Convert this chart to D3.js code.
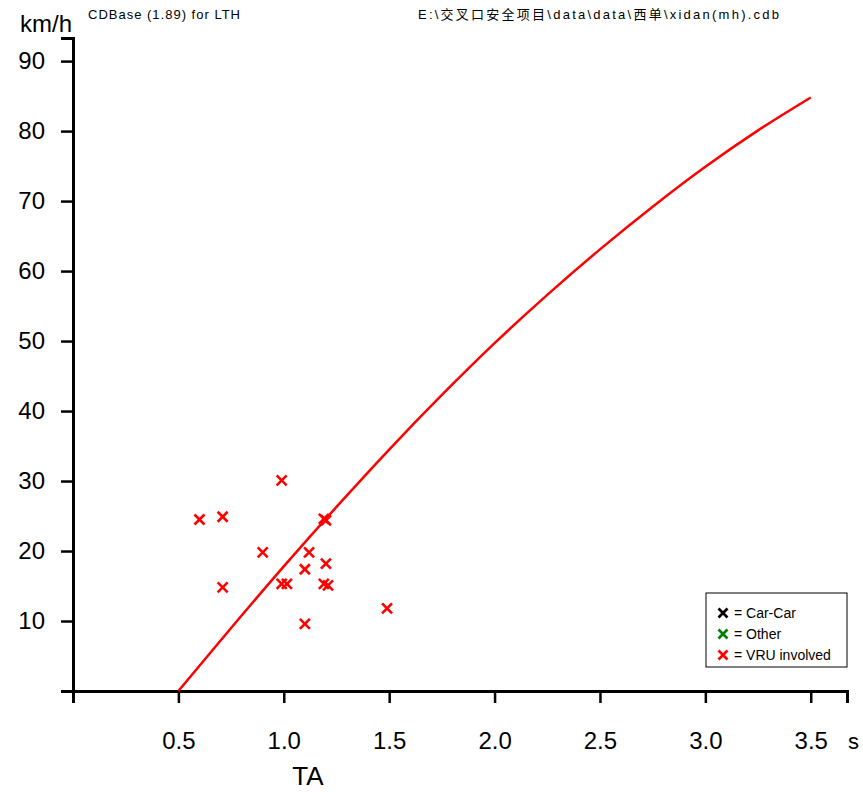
<!DOCTYPE html>
<html>
<head>
<meta charset="utf-8">
<script src="https://cdn.jsdelivr.net/npm/d3@7"></script>
<style>
  body { margin: 0; background: #fff; }
  svg { display: block; font-family: "Liberation Sans", Arial, sans-serif; }
</style>
</head>
<body>
<div id="chart"></div>
<script>
// data
var xTicks = [0.5, 1.0, 1.5, 2.0, 2.5, 3.0, 3.5];
var yTicks = [10, 20, 30, 40, 50, 60, 70, 80, 90];

// red reference curve (TA in s, speed in km/h)
var curveTA    = [0.5, 0.75, 1.0, 1.25, 1.5, 1.75, 2.0, 2.25, 2.5, 2.75, 3.0, 3.25, 3.5];
var curveSpeed = [0, 9.0, 17.8, 26.3, 34.5, 42.3, 49.7, 56.6, 63.1, 69.2, 74.9, 80.1, 84.8];

// conflict points (all VRU involved)
var pointTA    = [0.60, 0.71, 0.99, 0.90, 0.71, 0.99, 1.015, 1.12, 1.10, 1.20, 1.19, 1.20, 1.19, 1.21, 1.10, 1.49];
var pointSpeed = [24.5, 24.9, 30.1, 19.8, 14.8, 15.3, 15.3, 19.8, 17.4, 18.2, 24.6, 24.4, 15.3, 15.1, 9.6, 11.8];

var legendLabels = ["= Car-Car", "= Other", "= VRU involved"];
var legendColors = ["#000000", "#008000", "#ff0000"];

var W = 863, H = 792;
var svg = d3.select("#chart").append("svg")
    .attr("width", W)
    .attr("height", H);

// scales
var x = d3.scaleLinear().domain([0, 3.672]).range([73, 847]);
var y = d3.scaleLinear().domain([0, 93.3]).range([691, 38]);

// header texts
svg.append("text")
    .attr("x", 20).attr("y", 32)
    .style("font-size", "24px")
    .text("km/h");
svg.append("text")
    .attr("x", 88).attr("y", 19)
    .attr("textLength", 152)
    .style("font-size", "13px")
    .text("CDBase (1.89) for LTH");
svg.append("text")
    .attr("x", 418).attr("y", 19)
    .attr("textLength", 361)
    .style("font-size", "13px")
    .style("font-family", "'Liberation Sans', 'Noto Sans CJK SC', sans-serif")
    .text("E:\\交叉口安全项目\\data\\data\\西单\\xidan(mh).cdb");

// axes
var yAxis = svg.append("g")
    .attr("transform", "translate(73,0)")
    .call(d3.axisLeft(y).tickValues(yTicks).tickSize(12).tickPadding(16).tickFormat(d3.format("d")));
var xAxis = svg.append("g")
    .attr("transform", "translate(0,691)")
    .call(d3.axisBottom(x).tickValues(xTicks).tickSize(12).tickPadding(29).tickFormat(d3.format(".1f")));

[xAxis, yAxis].forEach(function(g) {
  g.select(".domain").attr("stroke", "#000").attr("stroke-width", 3);
  g.selectAll(".tick line").attr("stroke", "#000").attr("stroke-width", 2.5);
  g.selectAll(".tick text")
    .attr("fill", "#000")
    .style("font-size", "24px")
    .style("font-family", "'Liberation Sans', Arial, sans-serif");
});

// axis titles
svg.append("text")
    .attr("x", 848).attr("y", 749)
    .style("font-size", "22px")
    .text("s");
svg.append("text")
    .attr("x", 308).attr("y", 785)
    .attr("text-anchor", "middle")
    .style("font-size", "26px")
    .text("TA");

// curve
var line = d3.line()
    .x(function(d, i) { return x(curveTA[i]); })
    .y(function(d) { return y(d); })
    .curve(d3.curveCatmullRom);

svg.append("path")
    .datum(curveSpeed)
    .attr("d", line)
    .attr("fill", "none")
    .attr("stroke", "#ff0000")
    .attr("stroke-width", 2.5);

// cross markers
function cross(sel, size) {
  var s = size / 2;
  sel.append("line").attr("x1", -s).attr("y1", -s).attr("x2", s).attr("y2", s);
  sel.append("line").attr("x1", -s).attr("y1", s).attr("x2", s).attr("y2", -s);
}

var pts = svg.selectAll("g.pt")
  .data(pointTA)
  .join("g")
    .attr("class", "pt")
    .attr("transform", function(d, i) { return "translate(" + x(d) + "," + y(pointSpeed[i]) + ")"; })
    .attr("stroke", "#ff0000")
    .attr("stroke-width", 2.6);
cross(pts, 10);

// legend
var legend = svg.append("g").attr("transform", "translate(706,593)");
legend.append("rect")
    .attr("width", 141).attr("height", 74)
    .attr("fill", "#fff")
    .attr("stroke", "#000")
    .attr("stroke-width", 1);

var items = legend.selectAll("g.item")
  .data(legendLabels)
  .join("g")
    .attr("class", "item")
    .attr("transform", function(d, i) { return "translate(17," + (20 + i * 21) + ")"; });
items.append("g")
    .attr("stroke", function(d, i) { return legendColors[i]; })
    .attr("stroke-width", 2.6)
    .call(cross, 9);
items.append("text")
    .attr("x", 11).attr("y", 5)
    .style("font-size", "14px")
    .text(function(d) { return d; });
</script>
</body>
</html>
